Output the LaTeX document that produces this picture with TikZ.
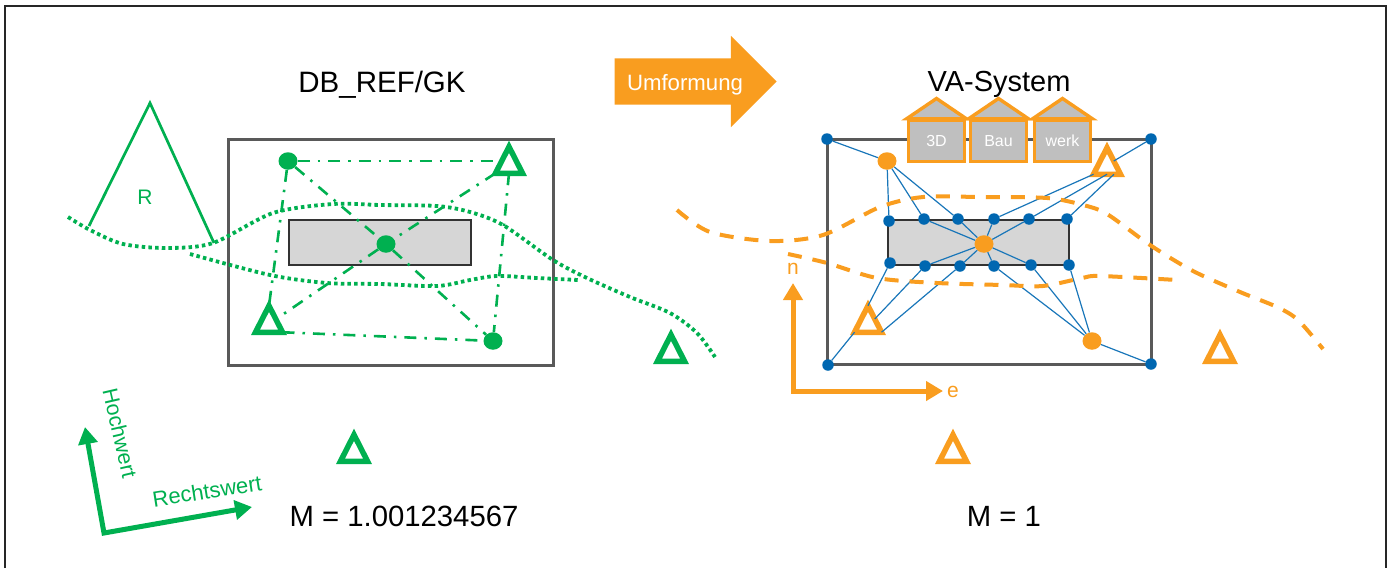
\documentclass[tikz,border=0pt]{standalone}
\usepackage{fontspec}
\setmainfont{Liberation Sans}
\usetikzlibrary{shapes.geometric,shapes.arrows,arrows.meta}

\definecolor{gkgreen}{HTML}{00B050}
\definecolor{vaorange}{HTML}{F99D1F}
\definecolor{meshblue}{HTML}{0067B1}
\definecolor{frame}{HTML}{595959}

\newcommand{\sz}[1]{\fontsize{#1}{#1}\selectfont}

\tikzset{
  station/.style={draw=#1,line width=5.5pt,fill=white,isosceles triangle,isosceles triangle apex angle=54,
    shape border rotate=90,inner sep=0pt,outer sep=0pt,minimum height=26.5pt,anchor=lower side},
  point/.style={fill=#1,ellipse,inner sep=0pt,minimum width=19pt,minimum height=17.5pt},
  meshpt/.style={fill=meshblue,circle,inner sep=0pt,minimum size=11.5pt},
  areabox/.style={draw=frame,line width=3pt},
  buildbox/.style={draw=black!80,line width=1.3pt,fill=black!16},
  gkline/.style={gkgreen,line width=2.6pt,dash pattern=on 12pt off 8pt on 2.5pt off 8pt},
  meshline/.style={draw=meshblue!90!white,line width=1.2pt},
  gkcurve/.style={gkgreen,line width=3.8pt,dash pattern=on 3.5pt off 3.2pt},
  vacurve/.style={vaorange,line width=4pt,dash pattern=on 14pt off 11pt},
  house/.style={draw=vaorange,line width=3.6pt,fill=black!25,minimum width=56pt,minimum height=41pt,
    inner sep=0pt,text=white,font=\sz{16}},
  axis/.style={line width=5pt,{Triangle[width=19pt,length=17pt]}-{Triangle[width=19pt,length=17pt]}}
}

\begin{document}
\begin{tikzpicture}[x=1pt,y=-1pt]

\useasboundingbox (0,0) rectangle (1392,568);

\draw [line width=2pt,black!85] (5,568) -- (5,6) -- (1386,6) -- (1386,568);

% linke Seite
\node [font=\sz{29.5}] (gktitle) at (382,85) {DB\_REF/GK};
\node [font=\sz{29.3}] (gkscale) at (404,516) {M = 1.001234567};

\draw [gkgreen,line width=2.7pt] (89,226) -- (150,103) -- (214,243);
\node [gkgreen,font=\sz{21}] (rlabel) at (145,197) {R};

\draw [areabox] (228,139) rectangle (553,365);
\draw [buildbox] (289,220) rectangle (471,265);

\node [point=gkgreen] (gk1) at (288,161) {};
\node [station=gkgreen] (gk2) at (509,173.25) {};
\node [point=gkgreen] (gk3) at (386,244) {};
\node [station=gkgreen] (gk4) at (269,332.25) {};
\node [point=gkgreen] (gk5) at (493,341) {};
\node [station=gkgreen] (gk6) at (671,361.25) {};
\node [station=gkgreen] (gk7) at (354,461.25) {};

\draw [gkline] (gk1.east) -- (gk1.east -| gk2.left side);
\draw [gkline] (gk1) -- (gk3);
\draw [gkline] (gk1) -- (gk4.apex);
\draw [gkline] (gk2.left corner) -- (gk3);
\draw [gkline] (gk2.lower side) -- (gk5);
\draw [gkline] (gk3) -- (gk4);
\draw [gkline] (gk3) -- (gk5);
\draw [gkline] (gk4.right corner) -- (gk5);

\draw [gkcurve] plot [smooth] coordinates {(68,217) (90,230) (123,244) (167,248) (213,243) (273,213) (333,204) (380,205) (437,206) (470,212) (503,225) (553,260) (587,278) (630,297) (670,313) (697,333) (715,357)};
\draw [gkcurve] plot [smooth] coordinates {(190,254) (270,275) (327,283) (380,284) (437,286) (470,280) (497,276) (537,278) (578,280)};

\coordinate (hwtip) at (85,427);
\coordinate (gkorigin) at (104,533);
\coordinate (rwtip) at (252,507);
\draw [axis,gkgreen] (hwtip) -- (gkorigin) -- (rwtip);
\node [gkgreen,font=\sz{21.5},rotate=-77] (hwlabel) at (120,433) {Hochwert};
\node [gkgreen,font=\sz{22},rotate=9] (rwlabel) at (207,491) {Rechtswert};

% Pfeil
\node [single arrow,fill=vaorange,inner ysep=23pt,inner xsep=0pt,minimum height=162pt,
  single arrow head extend=22.5pt,single arrow tip angle=90] (umform) at (684,81.5) {};
\node [text=white,font=\sz{22.2}] (umtext) at (685,85) {Umformung};

% rechte Seite
\node [font=\sz{29}] (vatitle) at (999,84) {VA-System};
\node [font=\sz{29.3}] (vascale) at (1004,516) {M = 1};

\draw [areabox] (827,139) rectangle (1151,364);
\draw [buildbox] (888,220) rectangle (1069,265);

\foreach \nm/\x/\y in {c1/827/139,c2/1151/139,c3/828/365,c4/1151/364,
  t1/889/221,t2/924/219,t3/958/219,t4/994/219,t5/1029/219,t6/1067/219,
  b1/890/263,b2/925/266,b3/960/266,b4/994/266,b5/1031/265,b6/1069/265}
  \node [meshpt] (\nm) at (\x,\y) {};

\node [point=vaorange] (va1) at (887,161) {};
\node [station=vaorange] (va2) at (1107,174.25) {};
\node [point=vaorange] (va3) at (984,244) {};
\node [station=vaorange] (va4) at (868,332.25) {};
\node [point=vaorange] (va5) at (1092,341) {};
\node [station=vaorange] (va6) at (1220,361.25) {};
\node [station=vaorange] (va7) at (953,461.25) {};

\foreach \a in {c1,t1,t2,t3} \draw [meshline] (va1) -- (\a);
\foreach \a in {t2,t3,t4,t5,b2,b3,b4,b5} \draw [meshline] (va3) -- (\a);
\foreach \a in {c4,b4,b5,b6} \draw [meshline] (va5) -- (\a);
\draw [meshline] (va2.right side) -- (c2);
\draw [meshline] (va2.left corner) -- (t4);
\draw [meshline] (va2.lower side) -- (t5);
\draw [meshline] (va2.-50) -- (t6);
\draw [meshline] (va4.left corner) -- (c3);
\draw [meshline] (va4.apex) -- (b1);
\draw [meshline] (va4.right side) -- (b2);
\draw [meshline] (va4.right corner) -- (b3);

\draw [vacurve] plot [smooth] coordinates {(677,210) (710,232) (770,241) (823,235) (880,207) (923,197) (980,197) (1047,198) (1083,205) (1107,214) (1150,245) (1193,271) (1240,292) (1277,307) (1298,320) (1323,349)};
\draw [vacurve] plot [smooth] coordinates {(788,254) (827,263) (877,278) (937,283) (1003,285) (1043,286) (1082,278) (1100,276) (1177,280)};

\foreach \i/\x/\lab in {1/936.5/3D,2/998.5/Bau,3/1062.5/werk} {
  \node [house] (roof\i) at (\x,141) {\lab};
  \draw [draw=vaorange,line width=3.4pt,fill=black!25] (roof\i.north west) -- (\x,98.5) -- (roof\i.north east) -- cycle;
}

\coordinate (ntip) at (793,283);
\coordinate (vaorigin) at (793,391);
\coordinate (etip) at (943,391);
\draw [axis,vaorange] (ntip) -- (vaorigin) -- (etip);
\node [vaorange,font=\sz{21}] (nlabel) at (793,269) {n};
\node [vaorange,font=\sz{21}] (elabel) at (953,392) {e};

\end{tikzpicture}
\end{document}
